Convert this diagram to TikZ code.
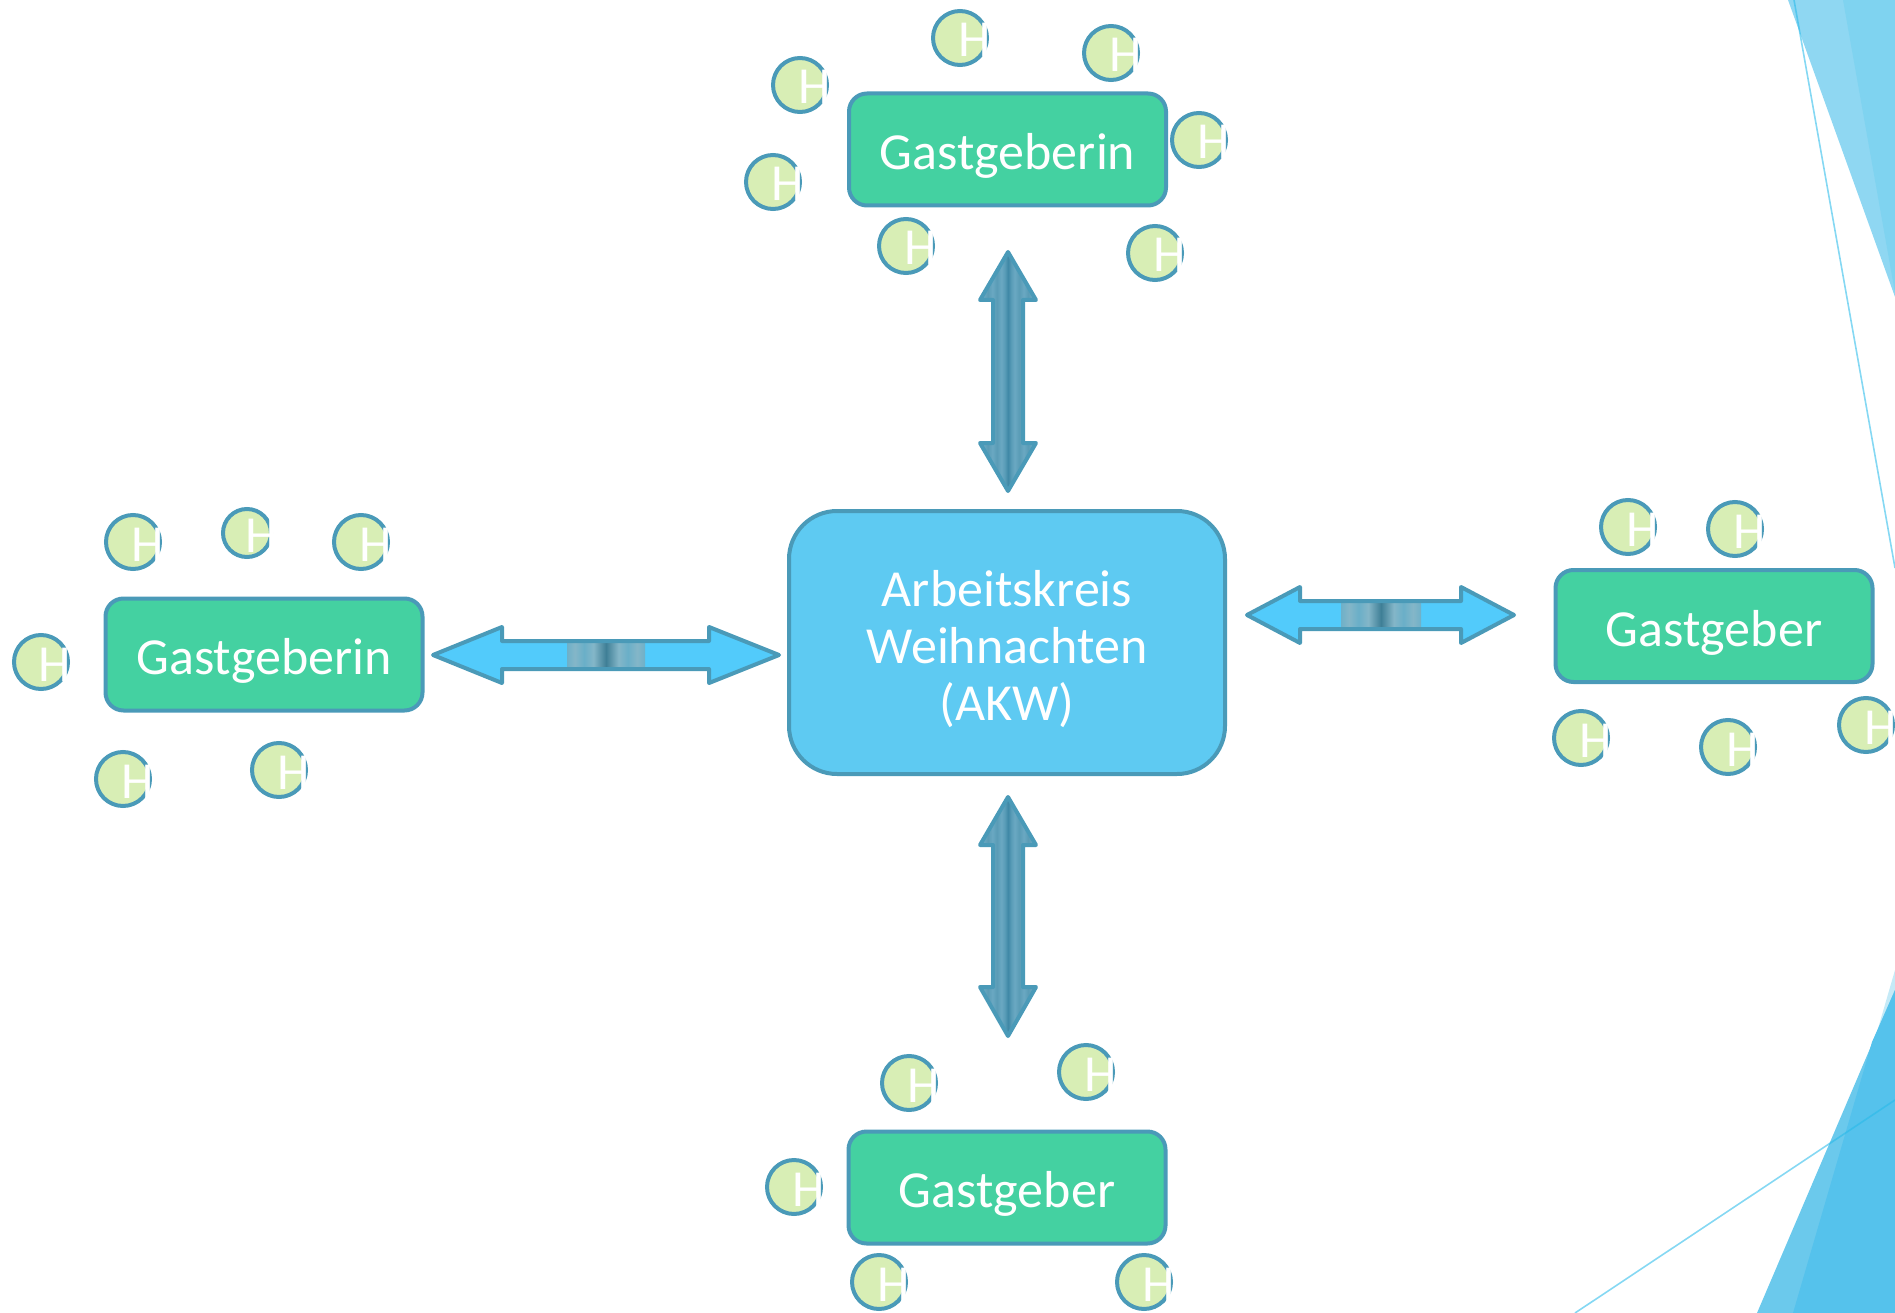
\documentclass[tikz,border=0pt]{standalone}
\usepackage{fontspec}
\setmainfont{Carlito}
\definecolor{edgec}{HTML}{4A9AB8}
\definecolor{greenc}{HTML}{44D1A1}
\definecolor{akwc}{HTML}{5ECAF2}
\definecolor{hfill}{HTML}{D8EEB5}
\definecolor{arrowc}{HTML}{52CBFB}
\definecolor{decoA}{HTML}{8FD7F2}
\definecolor{decoB}{HTML}{7FD3F0}
\definecolor{decoC}{HTML}{6BC9EC}
\definecolor{decoD}{HTML}{55C2EC}
\definecolor{decoE}{HTML}{C5EAF7}
\definecolor{decoL}{HTML}{27BAEA}
\definecolor{vA}{HTML}{5DB8DE}
\definecolor{vB}{HTML}{5FB0D0}
\definecolor{vC}{HTML}{6AA8C2}
\definecolor{vC2}{HTML}{5A9CB6}
\definecolor{vD}{HTML}{5A9DB8}
\definecolor{vE}{HTML}{3F88A6}
\definecolor{bA}{HTML}{72C6E6}
\definecolor{bA2}{HTML}{8CCBE2}
\definecolor{bB}{HTML}{6AAFC8}
\definecolor{bB2}{HTML}{84B6C8}
\definecolor{bC}{HTML}{3F7F96}
\pgfdeclarehorizontalshading{vband}{100bp}{color(0bp)=(vA); color(23bp)=(vB); color(28bp)=(vC); color(32bp)=(vC2); color(36bp)=(vC); color(40bp)=(vC2); color(44bp)=(vC); color(47bp)=(vD); color(50bp)=(vE); color(53bp)=(vD); color(56bp)=(vC); color(60bp)=(vC2); color(64bp)=(vC); color(68bp)=(vC2); color(72bp)=(vC); color(77bp)=(vB); color(100bp)=(vA)}
\pgfdeclarehorizontalshading{hband}{100bp}{color(0bp)=(bA); color(6bp)=(bA2); color(12bp)=(bA); color(18bp)=(bA2); color(24bp)=(bB); color(30bp)=(bB2); color(36bp)=(bB); color(42bp)=(bB2); color(50bp)=(bC); color(58bp)=(bB2); color(64bp)=(bB); color(70bp)=(bB2); color(76bp)=(bB); color(82bp)=(bA2); color(88bp)=(bA); color(94bp)=(bA2); color(100bp)=(bA)}
\tikzset{
  gbox/.style={draw=edgec,fill=greenc,line width=4pt,rounded corners=18pt,minimum width=317pt,minimum height=112pt,inner sep=0pt,outer sep=0pt,text=white,font=\fontsize{52}{57}\selectfont,text height=46pt,text depth=6pt},
  akwbox/.style={draw=edgec,fill=akwc,line width=4pt,rounded corners=48pt,minimum width=436pt,minimum height=263pt,inner sep=0pt,outer sep=0pt,text=white,font=\fontsize{52}{57}\selectfont,align=center},
  hcirc/.style={circle,draw=edgec,fill=hfill,line width=4pt,minimum size=54pt,inner sep=0pt,outer sep=0pt,text=white,font=\fontsize{52}{57}\selectfont},
  hsmall/.style={hcirc,minimum size=48pt},
  arrowline/.style={draw=edgec,line width=4pt,line join=round},
  deco/.style={line width=1.6pt,draw=decoL,draw opacity=.565}
}
\newcommand{\hh}{\smash{\raisebox{-19pt}{\makebox[0pt][l]{\hspace{-2pt}H}}}}
% horizontal block arrow: left tip, left base, right base, right tip, y, band left, band right
\newcommand{\harrow}[7]{%
  \path[fill=arrowc] (#1,#5) -- (#2,#5-28) -- (#2,#5-14) -- (#3,#5-14) -- (#3,#5-28) -- (#4,#5) -- (#3,#5+28) -- (#3,#5+14) -- (#2,#5+14) -- (#2,#5+28) -- cycle;
  \shade[shading=hband] (#6,#5-13) rectangle (#7,#5+13);
  \path[arrowline] (#1,#5) -- (#2,#5-28) -- (#2,#5-14) -- (#3,#5-14) -- (#3,#5-28) -- (#4,#5) -- (#3,#5+28) -- (#3,#5+14) -- (#2,#5+14) -- (#2,#5+28) -- cycle;}
% vertical block arrow: x, top tip, top base, bottom base, bottom tip
\newcommand{\varrow}[5]{%
  \shade[shading=vband] (#1,#2) -- (#1+28,#3) -- (#1+15,#3) -- (#1+15,#4) -- (#1+28,#4) -- (#1,#5) -- (#1-28,#4) -- (#1-15,#4) -- (#1-15,#3) -- (#1-28,#3) -- cycle;
  \path[arrowline] (#1,#2) -- (#1+28,#3) -- (#1+15,#3) -- (#1+15,#4) -- (#1+28,#4) -- (#1,#5) -- (#1-28,#4) -- (#1-15,#4) -- (#1-15,#3) -- (#1-28,#3) -- cycle;}
\begin{document}
\begin{tikzpicture}[x=1pt,y=-1pt]
\useasboundingbox (0,0) rectangle (1895,1313);
\clip (0,0) rectangle (1895,1313);
% decoration top right
\fill[decoA] (1788,0) -- (1895,297) -- (1895,0) -- cycle;
\fill[decoB] (1843,0) -- (1895,293) -- (1895,0) -- cycle;
\fill[decoE] (1877,1032) -- (1895,970) -- (1895,990) -- cycle;
\fill[decoC] (1757,1313) -- (1895,990) -- (1895,1313) -- cycle;
\fill[decoD] (1793,1313) -- (1872,1042) -- (1895,990) -- (1895,1313) -- cycle;
\draw[deco] (1794,0) -- (1895,568);
\draw[deco] (1575,1313) -- (1895,1100);
% main boxes
\node[akwbox] (akw) at (1007,642.5) {\rule{0pt}{50pt}Arbeitskreis\\Weihnachten\\(AKW)};
\node[gbox] (top) at (1007.5,149.5) {Gastgeberin};
\node[gbox] (left) at (264,654.5) {Gastgeberin};
\node[gbox] (right) at (1714,626) {Gastgeber};
\node[gbox] (bottom) at (1007,1187.5) {Gastgeber};
% block arrows
\varrow{1008}{252}{300}{443}{491}
\varrow{1008}{797}{845}{987}{1036}
\harrow{433}{502}{709}{779}{655}{567}{645}
\harrow{1247}{1300}{1461}{1514}{615}{1341}{1421}
% H circles top
\node[hcirc] (t1) at (800,85) {\hh};
\node[hcirc] (t2) at (773,182) {\hh};
\node[hcirc] (t3) at (960,38) {\hh};
\node[hcirc] (t4) at (1111,53) {\hh};
\node[hcirc] (t5) at (1199,140) {\hh};
\node[hcirc] (t6) at (906,246) {\hh};
\node[hcirc] (t7) at (1155,253) {\hh};
% left
\node[hcirc] (l1) at (133,542) {\hh};
\node[hsmall] (l2) at (247,533) {\hh};
\node[hcirc] (l3) at (361,542) {\hh};
\node[hcirc] (l4) at (41,662) {\hh};
\node[hcirc] (l5) at (123,779) {\hh};
\node[hcirc] (l6) at (279,770) {\hh};
% right
\node[hcirc] (r1) at (1628,527) {\hh};
\node[hcirc] (r2) at (1735,529) {\hh};
\node[hcirc] (r3) at (1581,738) {\hh};
\node[hcirc] (r4) at (1728,747) {\hh};
\node[hcirc] (r5) at (1866,725) {\hh};
% bottom
\node[hcirc] (b1) at (909,1083) {\hh};
\node[hcirc] (b2) at (1086,1072) {\hh};
\node[hcirc] (b3) at (794,1187) {\hh};
\node[hcirc] (b4) at (879,1282) {\hh};
\node[hcirc] (b5) at (1144,1282) {\hh};
\end{tikzpicture}
\end{document}
